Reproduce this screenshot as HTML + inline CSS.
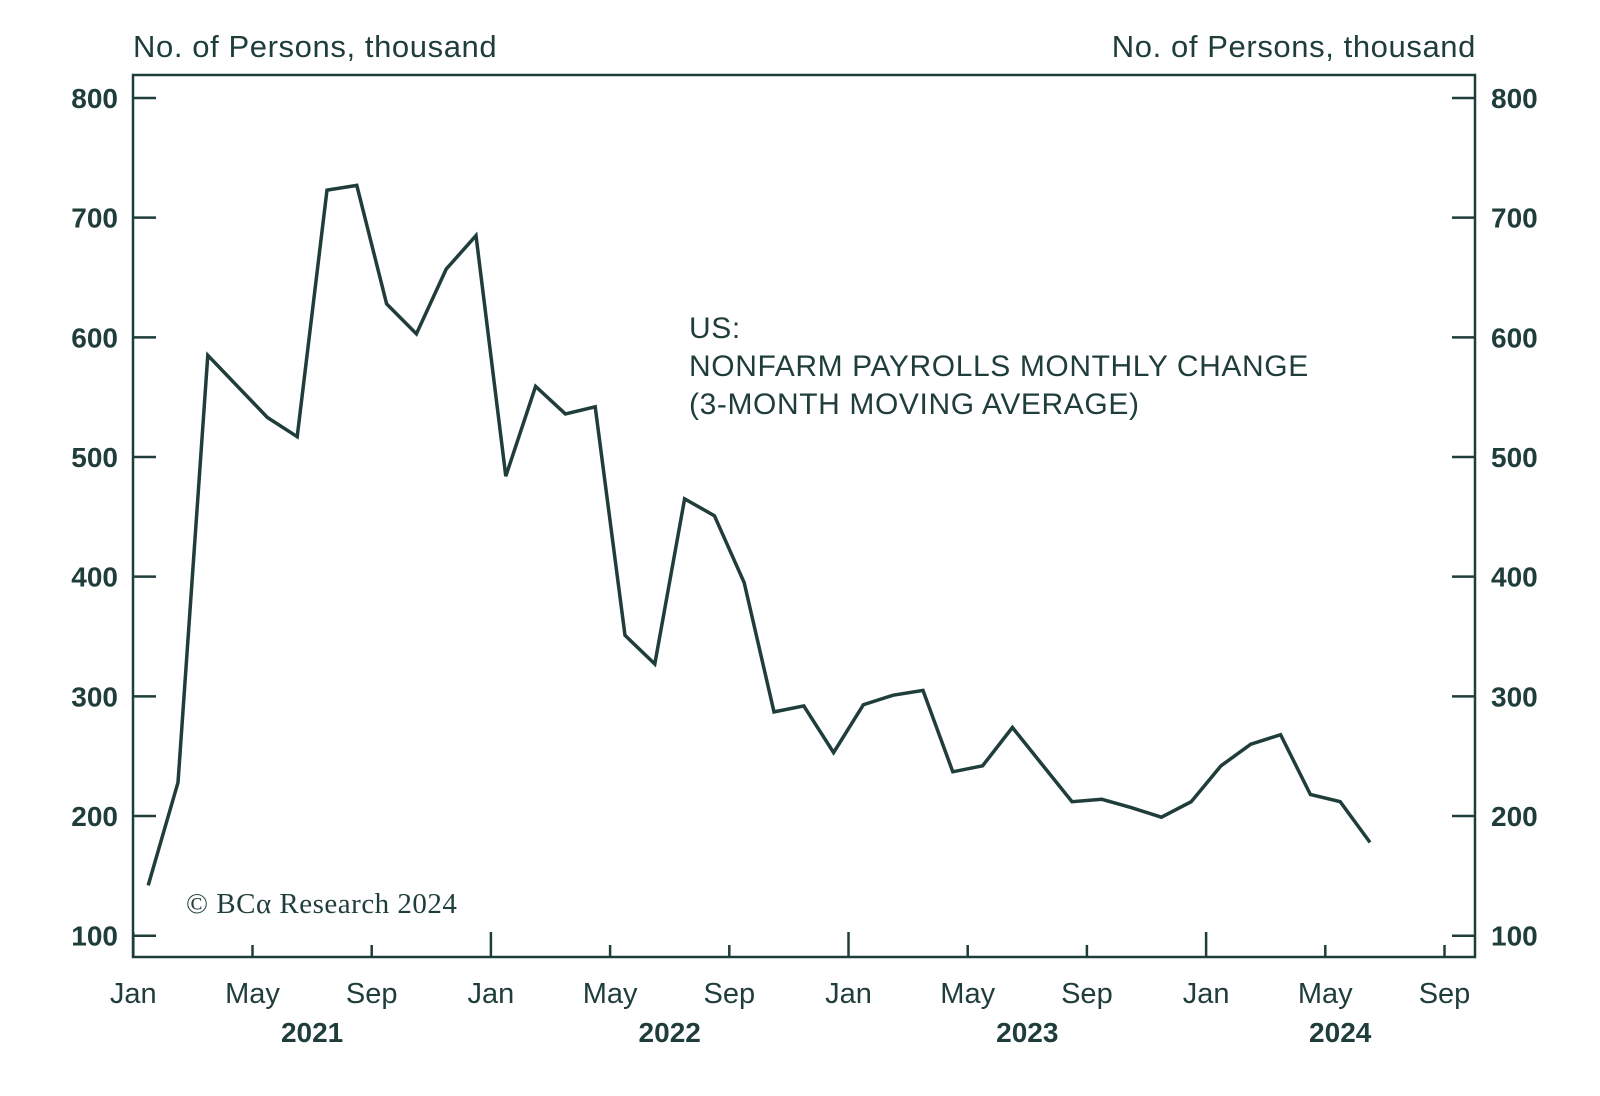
<!DOCTYPE html>
<html><head><meta charset="utf-8"><style>
body{margin:0;background:#fff}
svg{display:block;font-family:"Liberation Sans",sans-serif}
</style></head><body>
<svg width="1600" height="1096" viewBox="0 0 1600 1096" id="chart">
<text x="133" y="57" font-size="31" fill="#1f3d3a" letter-spacing="0.6">No. of Persons, thousand</text>
<text x="1476" y="57" font-size="31" fill="#1f3d3a" letter-spacing="0.6" text-anchor="end">No. of Persons, thousand</text>
<rect x="133" y="75" width="1342" height="882" fill="none" stroke="#1f3d3a" stroke-width="2.5"/>
<text x="689" y="338" font-size="30" fill="#1f3d3a" letter-spacing="0.6"><tspan x="689">US:</tspan><tspan x="689" dy="38">NONFARM PAYROLLS MONTHLY CHANGE</tspan><tspan x="689" dy="38">(3-MONTH MOVING AVERAGE)</tspan></text>
<text x="186" y="913" font-size="29" fill="#1f3d3a" letter-spacing="0.5" font-family="Liberation Serif, serif">© BCα Research 2024</text>
<g id="axes"></g>
<path id="line" fill="none" stroke="#1f3d3a" stroke-width="3.5" stroke-linejoin="miter"/>
</svg>
<script>
const values = [142,228,585,559,533,517,723,727,628,603,657,685,484,559,536,542,351,327,465,451,395,287,292,253,293,301,305,237,242,274,243,212,214,207,199,212,242,260,268,218,212,178];
const yTicks = [100,200,300,400,500,600,700,800];
const monthLabels = ["Jan","May","Sep","Jan","May","Sep","Jan","May","Sep","Jan","May","Sep"];
const yearLabels = ["2021","2022","2023","2024"];
const yearPositions = [6, 18, 30, 40.5];

const X0=133.3, DX=29.8, C="#1f3d3a";
const xm = m => X0 + m*DX;
const yv = v => 98 + (800 - v)*(935.7-98)/700;
const NS="http://www.w3.org/2000/svg";
const g=document.getElementById('axes');
function mk(tag, attrs, text){const e=document.createElementNS(NS,tag);for(const k in attrs)e.setAttribute(k,attrs[k]);if(text!==undefined)e.textContent=text;g.appendChild(e);return e;}
yTicks.forEach(v=>{
  const y=yv(v);
  let t=mk('line',{x1:133,x2:156,y1:y,y2:y,stroke:C,'stroke-width':2.5});
  
  
  t=mk('line',{x1:1452,x2:1475,y1:y,y2:y,stroke:C,'stroke-width':2.5});
  
  
  let l=mk('text',{x:118,y:y+10,'font-size':28,fill:C,'text-anchor':'end','font-weight':'bold'},v);
  
  
  l=mk('text',{x:1491,y:y+10,'font-size':28,fill:C,'font-weight':'bold'},v);
  
  
});
monthLabels.forEach((lab,i)=>{
  const m=i*4, x=xm(m), jan=(m%12===0);
  let t=mk('line',{x1:x,x2:x,y1:957,y2:jan?932:945,stroke:C,'stroke-width':2.5});
  
  
  let l=mk('text',{x:x,y:1003,'font-size':29,fill:C,'text-anchor':'middle'},lab);
  
  
});
yearLabels.forEach((yr,i)=>{
  let l=mk('text',{x:xm(yearPositions[i]),y:1042,'font-size':28,fill:C,'text-anchor':'middle','font-weight':'bold'},yr);
  
  
});
document.getElementById('line').setAttribute('d',values.map((v,i)=>(i?'L':'M')+xm(i+0.5).toFixed(1)+','+yv(v).toFixed(1)).join(' '));
</script>
</body></html>
